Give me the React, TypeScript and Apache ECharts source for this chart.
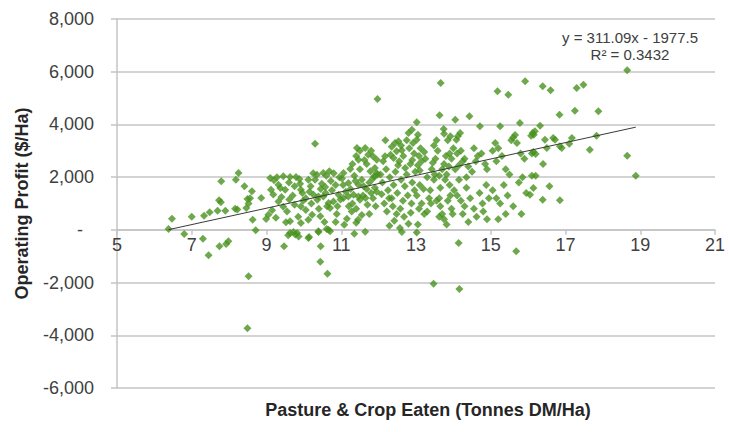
import React, { useEffect, useRef } from "react";
import * as echarts from "echarts";

// Pasture & crop eaten (t DM/ha) vs operating profit ($/ha)
const band6to8: [number, number][] = [
  [6.38, 34], [6.47, 425], [6.8, -156], [7.0, 500], [7.3, -334], [7.45, -967], [7.33, 539], [7.48, 664],
  [7.69, 728], [7.9, 728], [7.74, -626], [7.92, -535], [7.98, -436], [7.73, 1119], [7.78, 1050], [7.79, 1840],
];
const band8to9: [number, number][] = [
  [8.18, 1905], [8.25, 2159], [8.16, 804], [8.22, 770], [8.41, 1650], [8.49, 1172], [8.56, 1200], [8.61, 1461],
  [8.46, 830], [8.52, 1000], [8.63, 387], [8.71, -19], [8.86, 1210], [8.52, -1764], [8.49, -3737], [8.99, 413],
];
const band9to10: [number, number][] = [
  [9.05, 570], [9.1, 1970], [9.12, 1525], [9.18, 1340], [9.32, 1715], [9.32, 1080], [9.15, 740], [9.47, -626],
  [9.63, -118], [9.72, -80], [9.77, -180], [9.82, -120], [9.86, -250], [9.45, 2030], [9.63, 2007], [9.79, 2007],
  [9.88, 1930], [9.37, 1590], [9.5, 1525], [9.75, 1650], [9.92, 1525], [9.96, 1400], [9.75, 950], [9.92, 890],
  [9.61, 1150], [9.63, 322], [9.52, 285], [9.92, 262], [9.55, 700], [9.85, 500], [9.98, 1100], [9.4, 1250],
  [9.6, 1800], [9.25, 460], [9.7, 1300], [9.28, 2000], [9.9, 1750], [9.45, 880], [9.58, -200], [9.2, 1880],
];
const band10to11: [number, number][] = [
  [10.12, 1905], [10.35, 2094], [10.52, 2159], [10.68, 2220], [10.57, 1628], [10.3, 3270], [10.14, -270],
  [10.39, -80], [10.45, -626], [10.44, -1206], [10.63, -1662], [10.61, 34], [10.7, -57], [10.12, -308],
  [10.26, 1335], [10.39, 1270], [10.36, 1145], [10.52, 1270], [10.66, 1020], [10.7, 830], [10.62, 900],
  [10.79, 1080], [10.44, 512], [10.22, 577], [10.12, 387], [10.39, -57], [10.66, 0], [10.93, 1335],
  [10.05, 1200], [10.18, 1650], [10.3, 1900], [10.48, 1750], [10.75, 1500], [10.85, 1700], [10.95, 2000],
  [10.8, 2150], [10.2, 1000], [10.58, 1400], [10.9, 900], [10.4, 800], [10.88, 600], [10.55, 300],
  [10.05, 750], [10.25, 2150], [10.72, 1850], [10.98, 1150], [10.15, 1450], [10.85, 300], [10.6, 2050], [10.45, 1550],
];
const band11to12: [number, number][] = [
  [11.06, 1210], [11.19, 1270], [11.33, 1335], [11.46, 1270], [11.5, 1145], [11.65, 1210], [11.6, 1650],
  [11.46, 1714], [11.19, 1780], [11.06, 2159], [11.24, 2311], [11.42, 3107], [11.64, 3107], [11.46, 2663],
  [11.72, 2850], [11.85, 2790], [11.95, 2663], [11.78, 2220], [11.88, 2030], [11.97, 2094], [11.97, 4966],
  [11.08, 197], [11.35, -144], [11.4, 270], [11.64, -68], [11.15, 420], [11.45, 380], [11.55, 560],
  [11.05, 1700], [11.2, 900], [11.3, 1000], [11.4, 800], [11.7, 950], [11.8, 1400], [11.9, 1600],
  [11.25, 1550], [11.55, 1900], [11.35, 2050], [11.75, 1800], [11.85, 1200], [11.95, 1450], [11.12, 1450],
  [11.3, 2500], [11.5, 2300], [11.68, 2500], [11.9, 2350], [11.62, 2650], [11.8, 3000], [11.5, 3000],
  [11.4, 2800], [11.92, 900], [11.75, 600], [11.58, 1300], [11.28, 700], [11.85, 1950], [11.02, 1950],
  [11.38, 1850], [11.68, 1550], [11.95, 2150],
];
const band12to13: [number, number][] = [
  [12.17, 2790], [12.44, 3297], [12.53, 3360], [12.48, 2980], [12.62, 3020], [12.4, 2730], [12.8, 3676],
  [12.71, 2349], [12.29, 160], [12.57, 72], [12.62, -80], [12.8, 235], [12.89, 3800], [12.05, 2100],
  [12.1, 1800], [12.2, 2300], [12.25, 1500], [12.3, 2000], [12.35, 1200], [12.4, 1700], [12.45, 2200],
  [12.5, 1400], [12.55, 2600], [12.6, 1900], [12.65, 1100], [12.7, 1650], [12.75, 2100], [12.85, 2500],
  [12.9, 1800], [12.95, 2900], [12.15, 1000], [12.22, 700], [12.38, 900], [12.48, 600], [12.58, 800],
  [12.68, 500], [12.78, 1300], [12.88, 1000], [12.12, 2600], [12.32, 2850], [12.52, 2450], [12.66, 2800],
  [12.82, 3100], [12.92, 3300], [12.98, 2200], [12.08, 1350], [12.28, 1200], [12.42, 350], [12.86, 650],
  [12.96, 1500], [12.6, 3200], [12.75, 3400], [12.35, 3150], [12.18, 3400], [12.9, 2650],
];
const band13to14: [number, number][] = [
  [13.02, 4080], [13.66, 5573], [13.63, 4344], [13.74, 3830], [13.05, 3610], [13.02, 3420], [13.12, 3100],
  [13.08, 2800], [13.15, 2600], [13.05, 2450], [13.1, 2250], [13.22, 2950], [13.25, 2700], [13.48, 3200],
  [13.55, 3400], [13.58, 3000], [13.52, 2700], [13.45, 2550], [13.42, 2300], [13.5, 2100], [13.48, 1900],
  [13.62, 2050], [13.7, 2300], [13.75, 2500], [13.8, 2800], [13.9, 2900], [13.95, 2700], [13.88, 2400],
  [13.82, 2100], [13.78, 1900], [13.9, 1700], [13.65, 1600], [13.02, 1300], [13.1, 1700], [13.15, 1000],
  [13.08, 800], [13.22, 600], [13.3, 700], [13.35, 1200], [13.4, 1000], [13.05, 200], [13.02, -100],
  [13.55, 1100], [13.62, 1200], [13.65, 900], [13.7, 600], [13.62, 500], [13.75, 400], [13.82, 200],
  [13.95, 800], [13.98, 600], [13.85, 1100], [13.92, 1300], [13.2, 1550], [13.3, 2000], [13.47, -2041],
  [13.38, 1500], [13.75, 3650], [13.85, 3400], [13.92, 3550],
];
const band14to15: [number, number][] = [
  [14.05, 4181], [14.43, 4306], [14.71, 3927], [14.14, -498], [14.16, -2243], [14.18, 3676], [14.12, 3550],
  [14.08, 3420], [14.0, 3100], [14.1, 2900], [14.2, 3000], [14.25, 2600], [14.3, 2700], [14.15, 2450],
  [14.05, 2300], [14.4, 2400], [14.5, 2200], [14.35, 2000], [14.6, 2600], [14.65, 2800], [14.55, 3100],
  [14.75, 2900], [14.85, 2500], [14.9, 2300], [14.02, 1500], [14.1, 1300], [14.2, 1100], [14.3, 900],
  [14.35, 1600], [14.45, 1200], [14.55, 800], [14.62, 500], [14.7, 1400], [14.78, 1000], [14.88, 1700],
  [14.95, 1200], [14.25, 600], [14.4, 300], [14.15, 1900], [14.8, 700], [14.9, 400],
];
const band15to16: [number, number][] = [
  [15.18, 5255], [15.47, 5130], [15.92, 5634], [15.25, 3927], [15.78, 4056], [15.05, 3000], [15.12, 3300],
  [15.2, 3100], [15.3, 2800], [15.15, 2600], [15.4, 2300], [15.55, 3400], [15.6, 3500], [15.7, 3300],
  [15.65, 3600], [15.8, 2900], [15.9, 2700], [15.5, 2100], [15.85, 2000], [15.05, 1500], [15.15, 1200],
  [15.25, 1000], [15.35, 1700], [15.45, 1300], [15.6, 900], [15.75, 1800], [15.82, 600], [15.68, -815],
  [15.2, 400], [15.95, 1400], [15.4, 600],
];
const band16to19: [number, number][] = [
  [16.39, 5445], [16.6, 5293], [16.84, 4370], [16.32, 3953], [16.18, 3740], [16.12, 3676], [16.08, 3574],
  [16.15, 3612], [16.45, 3420], [16.67, 3487], [16.72, 3420], [16.5, 3107], [16.85, 3170], [16.9, 3107],
  [16.1, 2900], [16.14, 2950], [16.2, 2880], [16.1, 2056], [16.2, 2056], [16.14, 1590], [16.05, 1335],
  [16.57, 1650], [16.39, 1146], [16.85, 1119], [16.4, 2500], [17.3, 5384], [17.48, 5509], [17.25, 4522],
  [17.88, 4496], [17.17, 3487], [17.83, 3574], [17.1, 3270], [17.65, 3043], [18.65, 6052], [18.65, 2815],
  [18.88, 2056],
];

// Linear trendline as printed on the chart
const TREND_SLOPE = 311.09;
const TREND_INTERCEPT = -1977.5;
const TREND_X_RANGE = [6.38, 18.88];
const TREND_LABELS = ["y = 311.09x - 1977.5", "R² = 0.3432"];

const X_TICKS = { min: 5, max: 21, interval: 2 };
const Y_TICKS = { min: -6000, max: 8000, interval: 2000 };

const X_TITLE = "Pasture & Crop Eaten (Tonnes DM/Ha)";
const Y_TITLE = "Operating Profit ($/Ha)";

const FONT = "'Liberation Sans', Arial, sans-serif";

export default function App() {
  const ref = useRef<HTMLDivElement>(null);
  useEffect(() => {
    const chart = echarts.init(ref.current!, null, { renderer: "svg" });
    const points = [
      ...band6to8, ...band8to9, ...band9to10, ...band10to11, ...band11to12,
      ...band12to13, ...band13to14, ...band14to15, ...band15to16, ...band16to19,
    ];
    const trend = TREND_X_RANGE.map((x) => [x, TREND_SLOPE * x + TREND_INTERCEPT]);
    const gridColor = "#c4c4c4";
    const W = 729;
    const H = 432;
    const left = 117;
    const right = 14;
    const top = 19;
    const bottom = 44;
    // pixel row of y = 0 inside the main grid, so the x axis can sit on the zero line
    const plotH = H - top - bottom;
    const zeroFromTop = top + (plotH * (Y_TICKS.max - 0)) / (Y_TICKS.max - Y_TICKS.min);
    chart.setOption({
      animation: false,
      backgroundColor: "#ffffff",
      grid: [
        { left, right, top, bottom, containLabel: false, outerBoundsMode: "none" },
        { left, right, top, bottom: H - zeroFromTop, containLabel: false, outerBoundsMode: "none" },
      ],
      xAxis: [
        {
          type: "value",
          gridIndex: 0,
          ...X_TICKS,
          axisLine: { show: false },
          axisTick: { show: false },
          axisLabel: { show: false },
          splitLine: { show: false },
        },
        {
          type: "value",
          gridIndex: 1,
          ...X_TICKS,
          position: "bottom",
          axisLine: { onZero: false, lineStyle: { color: gridColor, width: 1.5 } },
          axisTick: { show: true, length: 5, lineStyle: { color: gridColor, width: 1.5 } },
          splitLine: { show: false },
          axisLabel: { fontSize: 18, color: "#404040", fontFamily: FONT, margin: 6 },
        },
      ],
      yAxis: [
        {
          type: "value",
          gridIndex: 0,
          ...Y_TICKS,
          name: Y_TITLE,
          nameLocation: "middle",
          nameGap: 86,
          nameTextStyle: { fontSize: 18, fontWeight: "bold", color: "#262626", fontFamily: FONT },
          axisLine: { show: true, lineStyle: { color: gridColor, width: 1.5 } },
          axisTick: { show: true, length: 6, lineStyle: { color: gridColor, width: 1.5 } },
          splitLine: { show: true, lineStyle: { color: gridColor, width: 1.5 } },
          axisLabel: {
            fontSize: 18,
            color: "#404040",
            fontFamily: FONT,
            margin: 23,
            formatter: (v: number) => (v === 0 ? "{d|-}" : v.toLocaleString("en-US")),
            rich: { d: { fontSize: 18, color: "#404040", fontFamily: FONT, padding: [0, 11, 0, 0] } },
          },
        },
        {
          type: "value",
          gridIndex: 1,
          min: 0,
          max: 1,
          show: false,
        },
      ],
      series: [
        {
          type: "scatter",
          xAxisIndex: 0,
          yAxisIndex: 0,
          data: points,
          symbol: "diamond",
          symbolSize: 8,
          itemStyle: { color: "#4a921f" },
          z: 2,
        },
        {
          type: "line",
          xAxisIndex: 0,
          yAxisIndex: 0,
          data: trend,
          symbol: "none",
          lineStyle: { color: "#3a3a3a", width: 1 },
          z: 3,
        },
      ],
      graphic: [
        {
          type: "text",
          x: 428,
          y: 410,
          style: { text: X_TITLE, fontSize: 18, fontWeight: "bold", fill: "#262626", fontFamily: FONT, align: "center", verticalAlign: "middle" },
        },
        {
          type: "text",
          x: 630,
          y: 37,
          style: { text: TREND_LABELS[0], fontSize: 15, fill: "#404040", fontFamily: FONT, align: "center", verticalAlign: "middle" },
        },
        {
          type: "text",
          x: 630,
          y: 54,
          style: { text: TREND_LABELS[1], fontSize: 15, fill: "#404040", fontFamily: FONT, align: "center", verticalAlign: "middle" },
        },
      ],
    });
    return () => chart.dispose();
  }, []);
  return <div ref={ref} style={{ position: "absolute", left: 0, top: 0, width: W_STYLE.width, height: W_STYLE.height, background: "#fff" }} />;
}

const W_STYLE = { width: 729, height: 432 };
